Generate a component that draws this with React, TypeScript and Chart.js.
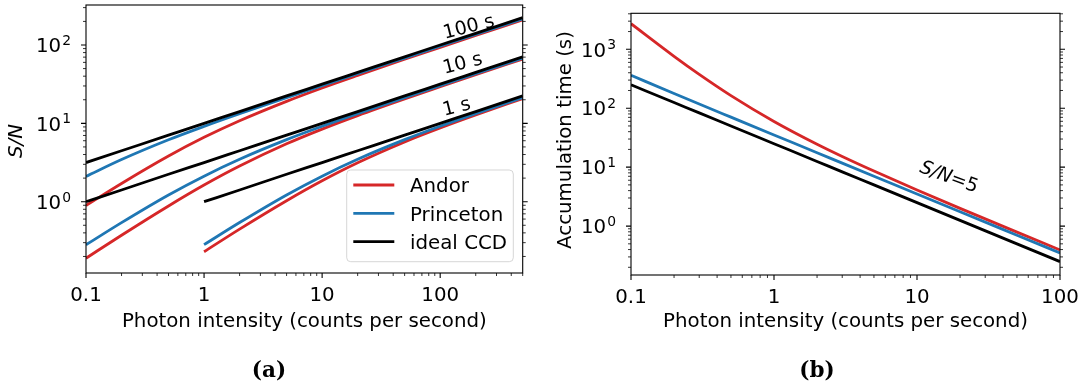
import { useEffect, useRef } from "react";
import { Chart, registerables } from "chart.js";
Chart.register(...registerables);

const SANS = '"DejaVu Sans", "Noto Sans", sans-serif';
const SERIF = '"DejaVu Serif", serif';
const FS = 19.8;

const RED = "#d62728";
const BLUE = "#1f77b4";
const BLACK = "#000000";

// ---------- Panel (a): S/N vs photon intensity ----------
const INTENSITY_A = [0.1, 0.2, 0.5, 1, 2, 5, 10, 20, 50, 100, 200, 500];
const INTENSITY_A_1S = [1, 2, 5, 10, 20, 50, 100, 200, 500];

const ANDOR_100S = [0.894, 1.71, 3.83, 6.63, 10.8, 19.1, 28.3, 40.9, 65.7, 93.3, 132.3, 209.6];
const ANDOR_10S = [0.19, 0.373, 0.882, 1.63, 2.85, 5.48, 8.45, 12.56, 20.5, 29.3, 41.7, 66.2];
const ANDOR_1S = [0.23, 0.447, 1.03, 1.85, 3.14, 5.79, 8.72, 12.78, 20.7];

const PRINCETON_100S = [2.1, 3.45, 6.17, 9.15, 13.27, 21.3, 30.3, 43.0, 68.1, 96.4, 136.4, 215.6];
const PRINCETON_10S = [0.282, 0.541, 1.22, 2.12, 3.48, 6.19, 9.17, 13.29, 21.3, 30.3, 43.0, 68.1];
const PRINCETON_1S = [0.283, 0.542, 1.22, 2.12, 3.48, 6.19, 9.17, 13.29, 21.3];

const IDEAL_100S = [3.16, 4.47, 7.07, 10, 14.1, 22.4, 31.6, 44.7, 70.7, 100, 141, 224];
const IDEAL_10S = [1, 1.41, 2.24, 3.16, 4.47, 7.07, 10, 14.1, 22.4, 31.6, 44.7, 70.7];
const IDEAL_1S = [1, 1.41, 2.24, 3.16, 4.47, 7.07, 10, 14.1, 22.4];

const X_TICKS_A = [0.1, 1, 10, 100];
const X_TICK_LABELS_A = ["0.1", "1", "10", "100"];
const Y_TICK_EXP_A = [0, 1, 2];
const TIME_LABELS = ["100 s", "10 s", "1 s"];
const TIME_LABEL_X = [175, 155, 138];
const TIME_LABEL_Y = [167, 57.2, 15.9];
const LEGEND_LABELS = ["Andor", "Princeton", "ideal CCD"];

// ---------- Panel (b): accumulation time for S/N = 5 ----------
const INTENSITY_B = [0.1, 0.2, 0.3, 0.5, 1, 2, 3, 5, 10, 20, 50, 100];
const ANDOR_T = [2720, 761, 376, 164, 59.7, 24.5, 15.2, 8.6, 4.11, 2.0, 0.79, 0.393];
const PRINCETON_T = [362, 178, 118, 70.6, 35.2, 17.6, 11.7, 7.01, 3.51, 1.75, 0.701, 0.351];
const IDEAL_T = [250, 125, 83.3, 50, 25, 12.5, 8.33, 5, 2.5, 1.25, 0.5, 0.25];

const X_TICKS_B = [0.1, 1, 10, 100];
const X_TICK_LABELS_B = ["0.1", "1", "10", "100"];
const Y_TICK_EXP_B = [0, 1, 2, 3];
const SN_LABEL_X = 16.7;
const SN_LABEL_Y = 6.66;

// ---------- helpers ----------
const pts = (xs: number[], ys: number[]) => xs.map((x, i) => ({ x, y: ys[i] }));
const line = (label: string, xs: number[], ys: number[], color: string, order: number) => ({
  label,
  data: pts(xs, ys),
  borderColor: color,
  backgroundColor: color,
  borderWidth: 2.8,
  pointRadius: 0,
  fill: false,
  order,
  clip: 0,
  cubicInterpolationMode: "monotone" as const,
});

function minorTicks(min: number, max: number) {
  const out: number[] = [];
  for (let k = Math.floor(Math.log10(min)); k <= Math.ceil(Math.log10(max)); k++) {
    for (let m = 2; m <= 9; m++) {
      const v = m * Math.pow(10, k);
      if (v >= min * 0.99999 && v <= max * 1.00001) out.push(v);
    }
  }
  return out;
}

function drawPow(ctx: CanvasRenderingContext2D, xr: number, base: number, exp: string) {
  const big = `${FS}px ${SANS}`;
  const small = `${FS * 0.7}px ${SANS}`;
  ctx.font = big;
  const w1 = ctx.measureText("10").width;
  ctx.font = small;
  const w2 = ctx.measureText(exp).width;
  const x0 = xr - w1 - w2 - 1;
  ctx.textAlign = "left";
  ctx.textBaseline = "alphabetic";
  ctx.font = big;
  ctx.fillText("10", x0, base);
  ctx.font = small;
  ctx.fillText(exp, x0 + w1 + 1, base - 0.37 * FS);
}

function drawAxes(chart: any, xt: number[], xl: string[], ye: number[]) {
  const ctx: CanvasRenderingContext2D = chart.ctx;
  const ar = chart.chartArea;
  const xs = chart.scales.x;
  const ys = chart.scales.y;
  ctx.save();
  ctx.strokeStyle = "#000";
  ctx.fillStyle = "#000";
  ctx.lineWidth = 0.8;
  ctx.beginPath();
  for (const v of minorTicks(xs.min, xs.max)) {
    const p = xs.getPixelForValue(v);
    ctx.moveTo(p, ar.bottom);
    ctx.lineTo(p, ar.bottom + 3);
  }
  for (const v of minorTicks(ys.min, ys.max)) {
    const p = ys.getPixelForValue(v);
    ctx.moveTo(ar.left - 3, p);
    ctx.lineTo(ar.left, p);
    ctx.moveTo(ar.right, p);
    ctx.lineTo(ar.right + 3, p);
  }
  ctx.stroke();
  ctx.lineWidth = 1.1;
  ctx.beginPath();
  for (const v of xt) {
    const p = xs.getPixelForValue(v);
    ctx.moveTo(p, ar.bottom);
    ctx.lineTo(p, ar.bottom + 5);
  }
  for (const e of ye) {
    const p = ys.getPixelForValue(Math.pow(10, e));
    ctx.moveTo(ar.left - 5, p);
    ctx.lineTo(ar.left, p);
    ctx.moveTo(ar.right, p);
    ctx.lineTo(ar.right + 5, p);
  }
  ctx.stroke();
  ctx.lineWidth = 1.1;
  ctx.strokeRect(ar.left, ar.top, ar.right - ar.left, ar.bottom - ar.top);

  ctx.font = `${FS}px ${SANS}`;
  ctx.textAlign = "center";
  ctx.textBaseline = "alphabetic";
  xt.forEach((v, i) => ctx.fillText(xl[i], xs.getPixelForValue(v), ar.bottom + 28));
  ye.forEach((e) => drawPow(ctx, ar.left - 15, ys.getPixelForValue(Math.pow(10, e)) + 0.3645 * FS, String(e)));
  ctx.restore();
}

function rotText(ctx: CanvasRenderingContext2D, text: string, x: number, y: number, deg: number, font: string) {
  ctx.save();
  ctx.translate(x, y);
  ctx.rotate((deg * Math.PI) / 180);
  ctx.font = font;
  ctx.textAlign = "center";
  ctx.textBaseline = "middle";
  ctx.fillText(text, 0, 0);
  ctx.restore();
}

const frameA = {
  id: "frameA",
  afterDatasetsDraw(chart: any) {
    const ctx: CanvasRenderingContext2D = chart.ctx;
    const ar = chart.chartArea;
    const xs = chart.scales.x;
    const ys = chart.scales.y;
    drawAxes(chart, X_TICKS_A, X_TICK_LABELS_A, Y_TICK_EXP_A);
    ctx.save();
    ctx.fillStyle = "#000";
    TIME_LABELS.forEach((t, i) =>
      rotText(ctx, t, xs.getPixelForValue(TIME_LABEL_X[i]), ys.getPixelForValue(TIME_LABEL_Y[i]), -14, `19px ${SANS}`)
    );
    ctx.font = `${FS}px ${SANS}`;
    ctx.textAlign = "center";
    ctx.textBaseline = "alphabetic";
    ctx.fillText("Photon intensity (counts per second)", (ar.left + ar.right) / 2, 327);
    rotText(ctx, "S/N", 17, (ar.top + ar.bottom) / 2 + 2, -90, `italic ${FS}px ${SANS}`);
    ctx.font = `bold 21.5px ${SERIF}`;
    ctx.textAlign = "center";
    ctx.textBaseline = "alphabetic";
    ctx.fillText("(a)", 269, 377);
    // legend
    const bx = 346.7, by = 170, bw = 166.6, bh = 91.7;
    ctx.beginPath();
    ctx.roundRect(bx, by, bw, bh, 4);
    ctx.fillStyle = "rgba(255,255,255,0.8)";
    ctx.fill();
    ctx.strokeStyle = "rgba(204,204,204,0.8)";
    ctx.lineWidth = 1;
    ctx.stroke();
    const colors = [RED, BLUE, BLACK];
    LEGEND_LABELS.forEach((lab, i) => {
      const yy = 185 + i * 28.3;
      ctx.strokeStyle = colors[i];
      ctx.lineWidth = 2.8;
      ctx.beginPath();
      ctx.moveTo(353.3, yy);
      ctx.lineTo(394.3, yy);
      ctx.stroke();
      ctx.fillStyle = "#000";
      ctx.font = `${FS}px ${SANS}`;
      ctx.textAlign = "left";
      ctx.textBaseline = "alphabetic";
      ctx.fillText(lab, 410, yy + 7.2);
    });
    ctx.restore();
  },
};

const frameB = {
  id: "frameB",
  afterDatasetsDraw(chart: any) {
    const ctx: CanvasRenderingContext2D = chart.ctx;
    const ar = chart.chartArea;
    const xs = chart.scales.x;
    const ys = chart.scales.y;
    drawAxes(chart, X_TICKS_B, X_TICK_LABELS_B, Y_TICK_EXP_B);
    ctx.save();
    ctx.fillStyle = "#000";
    ctx.font = `${FS}px ${SANS}`;
    ctx.textAlign = "center";
    ctx.textBaseline = "alphabetic";
    ctx.fillText("Photon intensity (counts per second)", (ar.left + ar.right) / 2, 327);
    rotText(ctx, "Accumulation time (s)", 24, 140, -90, `${FS}px ${SANS}`);
    const cx = xs.getPixelForValue(SN_LABEL_X);
    const cy = ys.getPixelForValue(SN_LABEL_Y);
    ctx.save();
    ctx.translate(cx, cy);
    ctx.rotate((20 * Math.PI) / 180);
    const fi = `italic 19px ${SANS}`;
    const fr = `19px ${SANS}`;
    ctx.font = fi;
    const w1 = ctx.measureText("S/N").width;
    ctx.font = fr;
    const w2 = ctx.measureText("=5").width;
    const x0 = -(w1 + w2) / 2;
    ctx.textAlign = "left";
    ctx.textBaseline = "middle";
    ctx.font = fi;
    ctx.fillText("S/N", x0, 0);
    ctx.font = fr;
    ctx.fillText("=5", x0 + w1, 0);
    ctx.restore();
    ctx.font = `bold 21.5px ${SERIF}`;
    ctx.textAlign = "center";
    ctx.fillText("(b)", 275, 377);
    ctx.restore();
  },
};

function baseOptions(pad: any, xmin: number, xmax: number, ymin: number, ymax: number) {
  return {
    responsive: false,
    animation: false as const,
    devicePixelRatio: 1,
    events: [],
    layout: { padding: pad },
    plugins: { legend: { display: false }, tooltip: { enabled: false } },
    scales: {
      x: { type: "logarithmic" as const, min: xmin, max: xmax, display: false },
      y: { type: "logarithmic" as const, min: ymin, max: ymax, display: false },
    },
  };
}

export default function App() {
  const refA = useRef<HTMLCanvasElement>(null);
  const refB = useRef<HTMLCanvasElement>(null);

  useEffect(() => {
    const chartA = new Chart(refA.current as HTMLCanvasElement, {
      type: "line",
      data: {
        datasets: [
          line("ideal CCD", INTENSITY_A, IDEAL_100S, BLACK, 0),
          line("ideal CCD", INTENSITY_A, IDEAL_10S, BLACK, 0),
          line("ideal CCD", INTENSITY_A_1S, IDEAL_1S, BLACK, 0),
          line("Princeton", INTENSITY_A, PRINCETON_100S, BLUE, 1),
          line("Princeton", INTENSITY_A, PRINCETON_10S, BLUE, 1),
          line("Princeton", INTENSITY_A_1S, PRINCETON_1S, BLUE, 1),
          line("Andor", INTENSITY_A, ANDOR_100S, RED, 2),
          line("Andor", INTENSITY_A, ANDOR_10S, RED, 2),
          line("Andor", INTENSITY_A_1S, ANDOR_1S, RED, 2),
        ],
      },
      options: baseOptions({ left: 86, right: 19.3, top: 5, bottom: 116 }, 0.1, 500, 0.123, 324) as any,
      plugins: [frameA],
    });
    const chartB = new Chart(refB.current as HTMLCanvasElement, {
      type: "line",
      data: {
        datasets: [
          line("ideal CCD", INTENSITY_B, IDEAL_T, BLACK, 0),
          line("Princeton", INTENSITY_B, PRINCETON_T, BLUE, 1),
          line("Andor", INTENSITY_B, ANDOR_T, RED, 2),
        ],
      },
      options: baseOptions({ left: 89, right: 24, top: 13.3, bottom: 114 }, 0.1, 100, 0.148, 4080) as any,
      plugins: [frameB],
    });
    return () => {
      chartA.destroy();
      chartB.destroy();
    };
  }, []);

  return (
    <div style={{ position: "fixed", left: 0, top: 0, width: 1084, height: 389, background: "#fff" }}>
      <canvas ref={refA} width={542} height={389} style={{ position: "absolute", left: 0, top: 0 }} />
      <canvas ref={refB} width={542} height={389} style={{ position: "absolute", left: 542, top: 0 }} />
    </div>
  );
}
